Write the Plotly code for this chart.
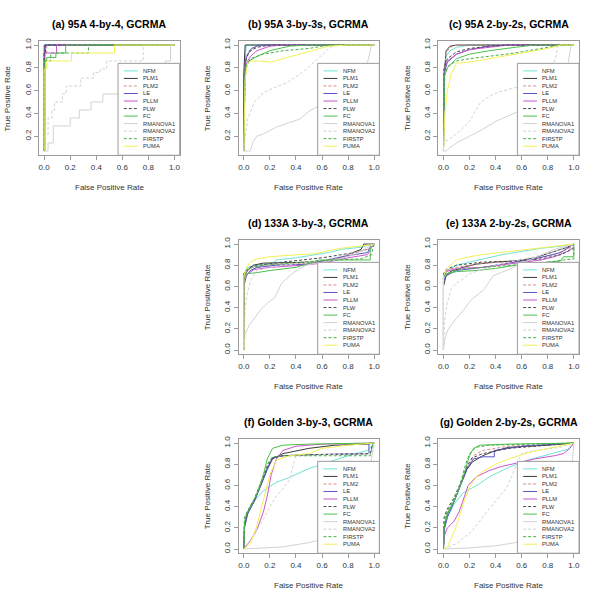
import plotly.graph_objects as go

# ---------------- data (FPR list, TPR list) ----------------
SERIES = ["NFM", "PLM1", "PLM2", "LE", "PLLM", "PLW", "FC",
          "RMANOVA1", "RMANOVA2", "FIRSTP", "PUMA"]
TITLES = ["(a) 95A 4-by-4, GCRMA", "(b) 95A 3-by-3s, GCRMA", "(c) 95A 2-by-2s, GCRMA",
          "(d) 133A 3-by-3, GCRMA", "(e) 133A 2-by-2s, GCRMA",
          "(f) Golden 3-by-3, GCRMA", "(g) Golden 2-by-2s, GCRMA"]
X_TICKS = [0.0, 0.2, 0.4, 0.6, 0.8, 1.0]
Y_TICKS_95A = [0.2, 0.4, 0.6, 0.8, 1.0]
Y_TICKS_OTHER = [0.0, 0.2, 0.4, 0.6, 0.8, 1.0]

# (a) 95A 4-by-4
a_NFM = ([0, 0, 0.01, 0.01, 1], [0.07, 0.93, 0.93, 1, 1])
a_PLM1 = ([0, 0.005, 0.005, 1], [0.07, 0.07, 1, 1])
a_PLM2 = ([0, 0, 0.02, 0.02, 1], [0.07, 0.93, 0.93, 1, 1])
a_LE = ([0, 0, 1], [0.07, 1, 1])
a_PLLM = ([0, 0, 0.095, 0.095, 1], [0.07, 0.93, 0.93, 1, 1])
a_PLW = ([0, 0, 0.01, 0.01, 1], [0.07, 0.93, 0.93, 1, 1])
a_FC = ([0, 0, 0.02, 0.02, 0.09, 0.09, 0.165, 0.165, 1],
        [0.07, 0.86, 0.86, 0.89, 0.89, 0.93, 0.93, 1, 1])
a_RMANOVA1 = ([0, 0.03, 0.03, 0.07, 0.07, 0.2, 0.2, 0.27, 0.27, 0.36, 0.36, 0.45, 0.45,
               0.6, 0.6, 0.75, 0.75, 0.93, 0.93, 0.97, 0.97, 1],
              [0.07, 0.07, 0.14, 0.14, 0.29, 0.29, 0.36, 0.36, 0.43, 0.43, 0.5, 0.5, 0.57,
               0.57, 0.64, 0.64, 0.79, 0.79, 0.86, 0.86, 1, 1])
a_RMANOVA2 = ([0, 0.01, 0.01, 0.03, 0.03, 0.06, 0.06, 0.08, 0.08, 0.14, 0.14, 0.17, 0.17,
               0.28, 0.28, 0.38, 0.38, 0.43, 0.43, 0.48, 0.48, 0.76, 0.76, 1],
              [0.07, 0.07, 0.21, 0.21, 0.36, 0.36, 0.43, 0.43, 0.5, 0.5, 0.57, 0.57, 0.64,
               0.64, 0.71, 0.71, 0.76, 0.76, 0.79, 0.79, 0.86, 0.86, 1, 1])
a_FIRSTP = ([0, 0, 0.05, 0.05, 0.34, 0.34, 1], [0.07, 0.86, 0.86, 0.93, 0.93, 1, 1])
a_PUMA = ([0, 0, 0.02, 0.02, 0.21, 0.21, 0.54, 0.54, 1],
          [0.07, 0.79, 0.79, 0.86, 0.86, 0.93, 0.93, 1, 1])

# (b) 95A 3-by-3s
b_NFM = ([0, 0.005, 0.02, 1], [0.07, 0.8, 1, 1])
b_PLM1 = ([0, 0, 0.01, 1], [0.07, 0.75, 1, 1])
b_PLM2 = ([0, 0.01, 0.04, 0.1, 0.2, 1], [0.07, 0.85, 0.95, 0.99, 1, 1])
b_LE = ([0, 0, 0.02, 0.06, 0.12, 1], [0.07, 0.7, 0.9, 0.97, 1, 1])
b_PLLM = ([0, 0.01, 0.05, 0.1, 0.2, 0.3, 1], [0.07, 0.82, 0.9, 0.95, 0.99, 1, 1])
b_PLW = ([0, 0.01, 0.04, 0.1, 0.2, 1], [0.07, 0.85, 0.94, 0.98, 1, 1])
b_FC = ([0, 0.01, 0.04, 0.1, 0.2, 0.35, 0.5, 1], [0.07, 0.78, 0.86, 0.9, 0.95, 0.99, 1, 1])
b_RMANOVA1 = ([0, 0.05, 0.07, 0.1, 0.15, 0.25, 0.35, 0.43, 0.5, 0.6, 0.8, 0.95, 0.98, 1],
              [0.07, 0.07, 0.15, 0.2, 0.22, 0.28, 0.32, 0.35, 0.42, 0.48, 0.62, 0.85, 1, 1])
b_RMANOVA2 = ([0, 0.01, 0.03, 0.08, 0.16, 0.25, 0.33, 0.4, 0.48, 0.55, 0.61, 0.65, 0.7, 1],
              [0.07, 0.2, 0.35, 0.5, 0.59, 0.63, 0.67, 0.72, 0.79, 0.86, 0.93, 0.97, 1, 1])
b_FIRSTP = ([0, 0.01, 0.05, 0.15, 0.3, 0.5, 0.6, 0.7, 1],
            [0.07, 0.8, 0.88, 0.92, 0.95, 0.97, 0.99, 1, 1])
b_PUMA = ([0, 0.01, 0.03, 0.06, 0.12, 0.21, 0.3, 0.45, 0.55, 0.65, 0.8, 1],
          [0.07, 0.7, 0.84, 0.86, 0.86, 0.85, 0.88, 0.93, 0.96, 0.99, 1, 1])

# (c) 95A 2-by-2s
c_NFM = ([0, 0.005, 0.02, 0.05, 0.1, 0.2, 1], [0.07, 0.8, 0.9, 0.95, 0.98, 1, 1])
c_PLM1 = ([0, 0.005, 0.02, 0.05, 0.1, 1], [0.07, 0.7, 0.95, 0.99, 1, 1])
c_PLM2 = ([0, 0.005, 0.02, 0.05, 0.1, 1], [0.07, 0.75, 0.93, 0.98, 1, 1])
c_LE = ([0, 0.005, 0.03, 0.1, 0.2, 0.35, 0.5, 1], [0.07, 0.75, 0.85, 0.92, 0.96, 0.99, 1, 1])
c_PLLM = ([0, 0.005, 0.03, 0.1, 0.2, 0.4, 0.5, 1], [0.07, 0.78, 0.86, 0.92, 0.96, 0.99, 1, 1])
c_PLW = ([0, 0.005, 0.03, 0.1, 0.2, 0.35, 0.5, 1], [0.07, 0.8, 0.88, 0.94, 0.97, 0.99, 1, 1])
c_FC = ([0, 0.005, 0.03, 0.1, 0.2, 0.35, 0.55, 0.7, 1],
        [0.07, 0.72, 0.8, 0.88, 0.92, 0.95, 0.98, 1, 1])
c_RMANOVA1 = ([0, 0.02, 0.05, 0.1, 0.2, 0.3, 0.4, 0.5, 0.6, 0.8, 0.95, 0.98, 1],
              [0.07, 0.07, 0.1, 0.14, 0.2, 0.26, 0.33, 0.38, 0.43, 0.6, 0.8, 1, 1])
c_RMANOVA2 = ([0, 0.01, 0.05, 0.1, 0.2, 0.28, 0.35, 0.43, 0.53, 0.65, 0.8, 0.86, 0.88, 1],
              [0.07, 0.15, 0.18, 0.22, 0.33, 0.49, 0.55, 0.59, 0.62, 0.65, 0.75, 0.88, 1, 1])
c_FIRSTP = ([0, 0.01, 0.04, 0.1, 0.2, 0.4, 0.55, 0.7, 0.85, 0.95, 1],
            [0.07, 0.75, 0.82, 0.86, 0.88, 0.91, 0.93, 0.96, 0.99, 1, 1])
c_PUMA = ([0, 0.01, 0.03, 0.06, 0.1, 0.2, 0.35, 0.5, 0.65, 0.8, 0.9, 1],
          [0.07, 0.4, 0.6, 0.75, 0.84, 0.85, 0.88, 0.91, 0.94, 0.97, 1, 1])

# (d) 133A 3-by-3
d_NFM = ([0, 0, 0.03, 0.1, 0.22, 0.25, 0.4, 0.55, 0.65, 0.75, 0.9, 1],
         [0, 0.72, 0.78, 0.8, 0.82, 0.85, 0.87, 0.9, 0.92, 0.95, 0.97, 1])
d_PLM1 = ([0, 0, 0.03, 0.07, 0.15, 0.55, 0.7, 0.85, 0.9, 0.92, 0.98, 1],
          [0, 0.7, 0.75, 0.8, 0.82, 0.83, 0.85, 0.92, 0.95, 1, 1, 1])
d_PLM2 = ([0, 0, 0.05, 0.15, 0.5, 0.7, 0.8, 0.95, 1],
          [0, 0.68, 0.75, 0.8, 0.82, 0.85, 0.9, 0.95, 1])
d_LE = ([0, 0, 0.02, 0.05, 0.1, 0.25, 0.5, 0.6, 0.75, 0.95, 0.98, 1],
        [0, 0.6, 0.7, 0.75, 0.78, 0.8, 0.81, 0.84, 0.88, 0.92, 1, 1])
d_PLLM = ([0, 0, 0.03, 0.08, 0.2, 0.45, 0.6, 0.8, 0.95, 0.98, 1],
          [0, 0.65, 0.72, 0.76, 0.78, 0.8, 0.82, 0.87, 0.9, 0.97, 1])
d_PLW = ([0, 0, 0.04, 0.12, 0.3, 0.6, 0.75, 0.85, 0.95, 1],
         [0, 0.72, 0.78, 0.8, 0.83, 0.87, 0.9, 0.92, 0.95, 1])
d_FC = ([0, 0, 0.02, 0.1, 0.2, 0.4, 0.58, 0.97, 0.97, 1],
        [0, 0.68, 0.72, 0.73, 0.75, 0.78, 0.85, 0.85, 0.95, 1])
d_RMANOVA1 = ([0, 0.01, 0.04, 0.08, 0.13, 0.18, 0.24, 0.29, 0.33, 0.37, 0.43, 0.48, 0.55,
               0.7, 0.85, 1],
              [0, 0.15, 0.23, 0.3, 0.38, 0.44, 0.5, 0.63, 0.68, 0.72, 0.77, 0.8, 0.82,
               0.85, 0.9, 1])
d_RMANOVA2 = ([0, 0.01, 0.03, 0.05, 0.1, 0.2, 0.3, 0.45, 0.6, 0.8, 0.95, 1],
              [0, 0.4, 0.55, 0.65, 0.75, 0.78, 0.8, 0.82, 0.85, 0.9, 0.95, 1])
d_FIRSTP = ([0, 0, 0.04, 0.15, 0.35, 0.55, 0.9, 0.98, 1],
            [0, 0.7, 0.77, 0.8, 0.82, 0.84, 0.86, 0.9, 1])
d_PUMA = ([0, 0, 0.02, 0.05, 0.1, 0.2, 0.3, 0.45, 0.55, 0.7, 0.8, 0.9, 1],
          [0, 0.7, 0.78, 0.83, 0.86, 0.88, 0.89, 0.9, 0.91, 0.95, 0.97, 0.98, 1])

# (e) 133A 2-by-2s
e_NFM = ([0, 0, 0.03, 0.1, 0.2, 0.3, 0.45, 0.6, 0.75, 0.9, 1],
         [0, 0.7, 0.75, 0.8, 0.83, 0.86, 0.9, 0.93, 0.96, 0.98, 1])
e_PLM1 = ([0, 0, 0.02, 0.05, 0.15, 0.25, 0.4, 0.55, 0.7, 0.85, 0.95, 1],
          [0, 0.6, 0.7, 0.74, 0.78, 0.81, 0.83, 0.84, 0.87, 0.93, 0.97, 1])
e_PLM2 = ([0, 0, 0.02, 0.1, 0.3, 0.5, 0.7, 0.85, 1],
          [0, 0.7, 0.75, 0.78, 0.82, 0.83, 0.86, 0.9, 0.98])
e_LE = ([0, 0, 0.02, 0.1, 0.3, 0.5, 0.7, 0.9, 1],
        [0, 0.65, 0.7, 0.75, 0.78, 0.82, 0.86, 0.92, 1])
e_PLLM = ([0, 0, 0.02, 0.1, 0.3, 0.55, 0.75, 0.85, 0.95, 1],
          [0, 0.68, 0.74, 0.77, 0.78, 0.82, 0.85, 0.88, 0.93, 0.97])
e_PLW = ([0, 0, 0.02, 0.1, 0.3, 0.55, 0.75, 0.9, 1],
         [0, 0.72, 0.76, 0.8, 0.83, 0.84, 0.86, 0.9, 0.96])
e_FC = ([0, 0, 0.02, 0.1, 0.25, 0.4, 0.55, 0.9, 0.92, 1, 1],
        [0, 0.68, 0.72, 0.74, 0.75, 0.77, 0.8, 0.84, 0.88, 0.88, 1])
e_RMANOVA1 = ([0, 0.01, 0.03, 0.06, 0.1, 0.15, 0.21, 0.26, 0.31, 0.38, 0.5, 0.6, 0.75,
               0.85, 1],
              [0, 0.1, 0.18, 0.24, 0.3, 0.37, 0.47, 0.52, 0.57, 0.7, 0.76, 0.82, 0.9,
               0.95, 1])
e_RMANOVA2 = ([0, 0.01, 0.03, 0.06, 0.1, 0.15, 0.2, 0.3, 0.4, 0.55, 0.7, 0.85, 1],
              [0, 0.3, 0.45, 0.58, 0.63, 0.67, 0.72, 0.76, 0.8, 0.84, 0.88, 0.93, 1])
e_FIRSTP = ([0, 0, 0.03, 0.1, 0.3, 0.5, 0.75, 0.92, 1, 1],
            [0, 0.7, 0.72, 0.76, 0.78, 0.8, 0.82, 0.85, 0.86, 1])
e_PUMA = ([0, 0, 0.02, 0.05, 0.1, 0.2, 0.3, 0.5, 0.7, 0.85, 1],
          [0, 0.7, 0.75, 0.8, 0.85, 0.88, 0.9, 0.93, 0.96, 0.98, 1])

# (f) Golden 3-by-3
f_NFM = ([0, 0.005, 0.03, 0.08, 0.15, 0.25, 0.34, 0.5, 0.65, 0.8, 0.95, 1],
         [0, 0.2, 0.35, 0.45, 0.55, 0.63, 0.67, 0.76, 0.82, 0.88, 0.93, 1])
f_PLM1 = ([0, 0.005, 0.03, 0.08, 0.13, 0.18, 0.22, 0.3, 0.5, 0.7, 0.95, 1],
          [0, 0.22, 0.35, 0.45, 0.6, 0.75, 0.85, 0.9, 0.95, 0.98, 0.99, 1])
f_PLM2 = ([0, 0.005, 0.03, 0.08, 0.13, 0.18, 0.22, 0.3, 0.5, 0.97, 0.99, 1],
          [0, 0.24, 0.36, 0.46, 0.61, 0.77, 0.86, 0.88, 0.89, 0.9, 1, 1])
f_LE = ([0, 0.005, 0.03, 0.08, 0.13, 0.18, 0.22, 0.3, 0.5, 0.96, 0.96, 1],
        [0, 0.2, 0.33, 0.45, 0.6, 0.76, 0.86, 0.88, 0.89, 0.9, 1, 1])
f_PLLM = ([0, 0.05, 0.1, 0.15, 0.18, 0.21, 0.25, 0.3, 0.4, 0.6, 1],
          [0, 0.08, 0.18, 0.35, 0.5, 0.7, 0.85, 0.93, 0.97, 0.99, 1])
f_PLW = ([0, 0.005, 0.03, 0.08, 0.13, 0.18, 0.22, 0.3, 0.5, 0.97, 0.99, 1],
         [0, 0.25, 0.36, 0.47, 0.62, 0.78, 0.86, 0.88, 0.89, 0.9, 1, 1])
f_FC = ([0, 0.005, 0.02, 0.05, 0.1, 0.15, 0.18, 0.22, 0.3, 0.5, 1],
        [0, 0.25, 0.33, 0.4, 0.52, 0.7, 0.85, 0.95, 0.98, 0.99, 1])
f_RMANOVA1 = ([0, 0.1, 0.2, 0.3, 0.4, 0.5, 0.6, 0.8, 0.95, 0.98, 1],
              [0, 0.005, 0.01, 0.02, 0.04, 0.06, 0.09, 0.2, 0.5, 0.85, 1])
f_RMANOVA2 = ([0, 0.05, 0.1, 0.15, 0.2, 0.25, 0.3, 0.35, 0.38, 0.4, 0.6, 0.97, 1],
              [0, 0.08, 0.18, 0.28, 0.4, 0.5, 0.57, 0.65, 0.8, 0.88, 0.89, 0.9, 1])
f_FIRSTP = ([0, 0.005, 0.03, 0.08, 0.13, 0.18, 0.22, 0.3, 0.97, 0.99, 1],
            [0, 0.3, 0.36, 0.47, 0.62, 0.8, 0.87, 0.88, 0.88, 1, 1])
f_PUMA = ([0, 0.05, 0.1, 0.15, 0.2, 0.25, 0.35, 0.5, 0.6, 0.8, 1],
          [0, 0.05, 0.22, 0.45, 0.7, 0.84, 0.88, 0.9, 0.95, 0.98, 1])

# (g) Golden 2-by-2s
g_NFM = ([0, 0.01, 0.03, 0.08, 0.15, 0.27, 0.35, 0.43, 0.5, 0.65, 0.8, 0.95, 1],
         [0, 0.2, 0.3, 0.42, 0.53, 0.61, 0.68, 0.73, 0.77, 0.84, 0.89, 0.94, 1])
g_PLM1 = ([0, 0.005, 0.03, 0.08, 0.13, 0.18, 0.22, 0.3, 0.38, 0.5, 0.8, 1],
          [0, 0.2, 0.33, 0.45, 0.6, 0.75, 0.82, 0.88, 0.92, 0.96, 0.98, 1])
g_PLM2 = ([0, 0.005, 0.03, 0.08, 0.13, 0.18, 0.23, 0.3, 0.5, 1],
          [0, 0.25, 0.35, 0.46, 0.6, 0.77, 0.88, 0.93, 0.97, 1])
g_LE = ([0, 0.005, 0.03, 0.08, 0.13, 0.18, 0.23, 0.3, 0.39, 0.39, 0.6, 1],
        [0, 0.18, 0.3, 0.44, 0.6, 0.76, 0.85, 0.87, 0.87, 0.93, 0.97, 1])
g_PLLM = ([0, 0.005, 0.03, 0.08, 0.12, 0.16, 0.19, 0.25, 0.35, 0.45, 0.56, 0.7, 0.85,
           0.92, 0.97, 1],
          [0, 0.12, 0.2, 0.26, 0.35, 0.5, 0.6, 0.68, 0.74, 0.78, 0.81, 0.85, 0.88,
           0.9, 0.95, 1])
g_PLW = ([0, 0.005, 0.03, 0.08, 0.13, 0.18, 0.22, 0.3, 0.5, 1],
         [0, 0.3, 0.38, 0.48, 0.62, 0.78, 0.86, 0.9, 0.95, 1])
g_FC = ([0, 0.005, 0.03, 0.08, 0.13, 0.17, 0.2, 0.23, 0.28, 0.5, 1],
        [0, 0.22, 0.33, 0.45, 0.6, 0.75, 0.88, 0.95, 0.98, 0.99, 1])
g_RMANOVA1 = ([0, 0.2, 0.4, 0.55, 0.7, 0.85, 0.97, 0.99, 1],
              [0, 0.01, 0.03, 0.06, 0.1, 0.2, 0.5, 0.8, 1])
g_RMANOVA2 = ([0, 0.1, 0.22, 0.35, 0.48, 0.53, 0.56, 0.6, 0.7, 0.9, 1],
              [0, 0.05, 0.17, 0.38, 0.57, 0.7, 0.8, 0.9, 0.93, 0.96, 1])
g_FIRSTP = ([0, 0.005, 0.03, 0.08, 0.13, 0.17, 0.2, 0.25, 0.35, 1],
            [0, 0.28, 0.36, 0.48, 0.62, 0.8, 0.9, 0.96, 0.98, 1])
g_PUMA = ([0, 0.03, 0.06, 0.1, 0.15, 0.2, 0.25, 0.3, 0.4, 0.48, 0.65, 0.8, 1],
          [0, 0.02, 0.1, 0.22, 0.42, 0.58, 0.68, 0.73, 0.8, 0.84, 0.91, 0.95, 1])

# ---------------- styles ----------------
COLORS = {"NFM": "#6fe3d6", "PLM1": "#3a3a3a", "PLM2": "#d98a8a", "LE": "#5a55c8",
          "PLLM": "#cc55cc", "PLW": "#4a4a4a", "FC": "#4cc04c", "RMANOVA1": "#d2d2d2",
          "RMANOVA2": "#d2d2d2", "FIRSTP": "#44b044", "PUMA": "#f2f055"}
DASHES = {"NFM": "solid", "PLM1": "solid", "PLM2": "3px,2px", "LE": "solid",
          "PLLM": "solid", "PLW": "3px,2px", "FC": "solid", "RMANOVA1": "solid",
          "RMANOVA2": "3px,2px", "FIRSTP": "3px,2px", "PUMA": "solid"}

PANELS = [
    [a_NFM, a_PLM1, a_PLM2, a_LE, a_PLLM, a_PLW, a_FC, a_RMANOVA1, a_RMANOVA2, a_FIRSTP, a_PUMA],
    [b_NFM, b_PLM1, b_PLM2, b_LE, b_PLLM, b_PLW, b_FC, b_RMANOVA1, b_RMANOVA2, b_FIRSTP, b_PUMA],
    [c_NFM, c_PLM1, c_PLM2, c_LE, c_PLLM, c_PLW, c_FC, c_RMANOVA1, c_RMANOVA2, c_FIRSTP, c_PUMA],
    [d_NFM, d_PLM1, d_PLM2, d_LE, d_PLLM, d_PLW, d_FC, d_RMANOVA1, d_RMANOVA2, d_FIRSTP, d_PUMA],
    [e_NFM, e_PLM1, e_PLM2, e_LE, e_PLLM, e_PLW, e_FC, e_RMANOVA1, e_RMANOVA2, e_FIRSTP, e_PUMA],
    [f_NFM, f_PLM1, f_PLM2, f_LE, f_PLLM, f_PLW, f_FC, f_RMANOVA1, f_RMANOVA2, f_FIRSTP, f_PUMA],
    [g_NFM, g_PLM1, g_PLM2, g_LE, g_PLLM, g_PLW, g_FC, g_RMANOVA1, g_RMANOVA2, g_FIRSTP, g_PUMA],
]
# cell (column, row) of each panel in the 3x3 grid
CELLS = [(0, 0), (1, 0), (2, 0), (1, 1), (2, 1), (1, 2), (2, 2)]

W = H = 600
CELL = 200
BOX_L, BOX_R, BOX_T, BOX_B = 39, 180, 38, 153
FONT = "Liberation Sans, Arial, sans-serif"

fig = go.Figure()
layout = dict(width=W, height=H, margin=dict(l=0, r=0, t=0, b=0),
              paper_bgcolor="white", plot_bgcolor="white", showlegend=False,
              font=dict(family=FONT, color="#333333"))
shapes, annots = [], []

for i, (series_data, (col, row)) in enumerate(zip(PANELS, CELLS)):
    n = i + 1
    xa = "x" if n == 1 else f"x{n}"
    ya = "y" if n == 1 else f"y{n}"
    cx, cy = col * CELL, row * CELL
    is95 = i < 3
    for name, (fpr, tpr) in zip(SERIES, series_data):
        fig.add_trace(go.Scatter(x=fpr, y=tpr, mode="lines", name=name, xaxis=xa, yaxis=ya,
                                 line=dict(color=COLORS[name], width=1.0, dash=DASHES[name]),
                                 hoverinfo="skip"))
    axis_common = dict(showgrid=False, zeroline=False, showline=True, mirror=True,
                       linecolor="#9a9a9a", linewidth=1, ticks="outside", ticklen=4,
                       tickcolor="#9a9a9a", tickfont=dict(size=8, color="#333333"),
                       tickformat=".1f", fixedrange=True)
    layout["xaxis" if n == 1 else f"xaxis{n}"] = dict(
        axis_common, domain=[(cx + BOX_L) / W, (cx + BOX_R) / W],
        range=[-0.04, 1.04], tickvals=X_TICKS, anchor=ya)
    layout["yaxis" if n == 1 else f"yaxis{n}"] = dict(
        axis_common, domain=[1 - (cy + BOX_B) / H, 1 - (cy + BOX_T) / H],
        range=[0.033, 1.037] if is95 else [-0.04, 1.04],
        tickvals=Y_TICKS_95A if is95 else Y_TICKS_OTHER, tickangle=-90, anchor=xa)

    # titles
    annots.append(dict(text=f"<b>{TITLES[i]}</b>", xref="paper", yref="paper",
                       x=(cx + (BOX_L + BOX_R) / 2) / W, y=1 - (cy + 21) / H,
                       showarrow=False, font=dict(size=10.5, color="black"),
                       xanchor="center", yanchor="middle"))
    annots.append(dict(text="False Positive Rate", xref="paper", yref="paper",
                       x=(cx + (BOX_L + BOX_R) / 2) / W, y=1 - (cy + 185) / H,
                       showarrow=False, font=dict(size=8, color="#333333"),
                       xanchor="center", yanchor="middle"))
    annots.append(dict(text="True Positive Rate", xref="paper", yref="paper",
                       x=(cx + 7.5) / W, y=1 - (cy + (BOX_T + BOX_B) / 2) / H,
                       showarrow=False, textangle=-90, font=dict(size=8, color="#333333"),
                       xanchor="center", yanchor="middle"))

    # legend (bottom-right, opaque)
    xd, yd = f"{xa} domain", f"{ya} domain"
    shapes.append(dict(type="rect", xref=xd, yref=yd, x0=0.562, x1=1.0, y0=0.0, y1=0.803,
                       fillcolor="white", line=dict(color="#9a9a9a", width=1), layer="above"))
    for k, name in enumerate(SERIES):
        yk = 0.737 - k * 0.0658
        shapes.append(dict(type="line", xref=xd, yref=yd, x0=0.603, x1=0.702, y0=yk, y1=yk,
                           line=dict(color=COLORS[name], width=1.0, dash=DASHES[name]),
                           layer="above"))
        annots.append(dict(text=name, xref=xd, yref=yd, x=0.725, y=yk, showarrow=False,
                           xanchor="left", yanchor="middle",
                           font=dict(size=5.8, color="#333333")))

layout["shapes"] = shapes
layout["annotations"] = annots
fig.update_layout(**layout)
fig.write_html("out.html", config={"displayModeBar": False, "staticPlot": True},
               post_script="document.body.style.margin='0';")
